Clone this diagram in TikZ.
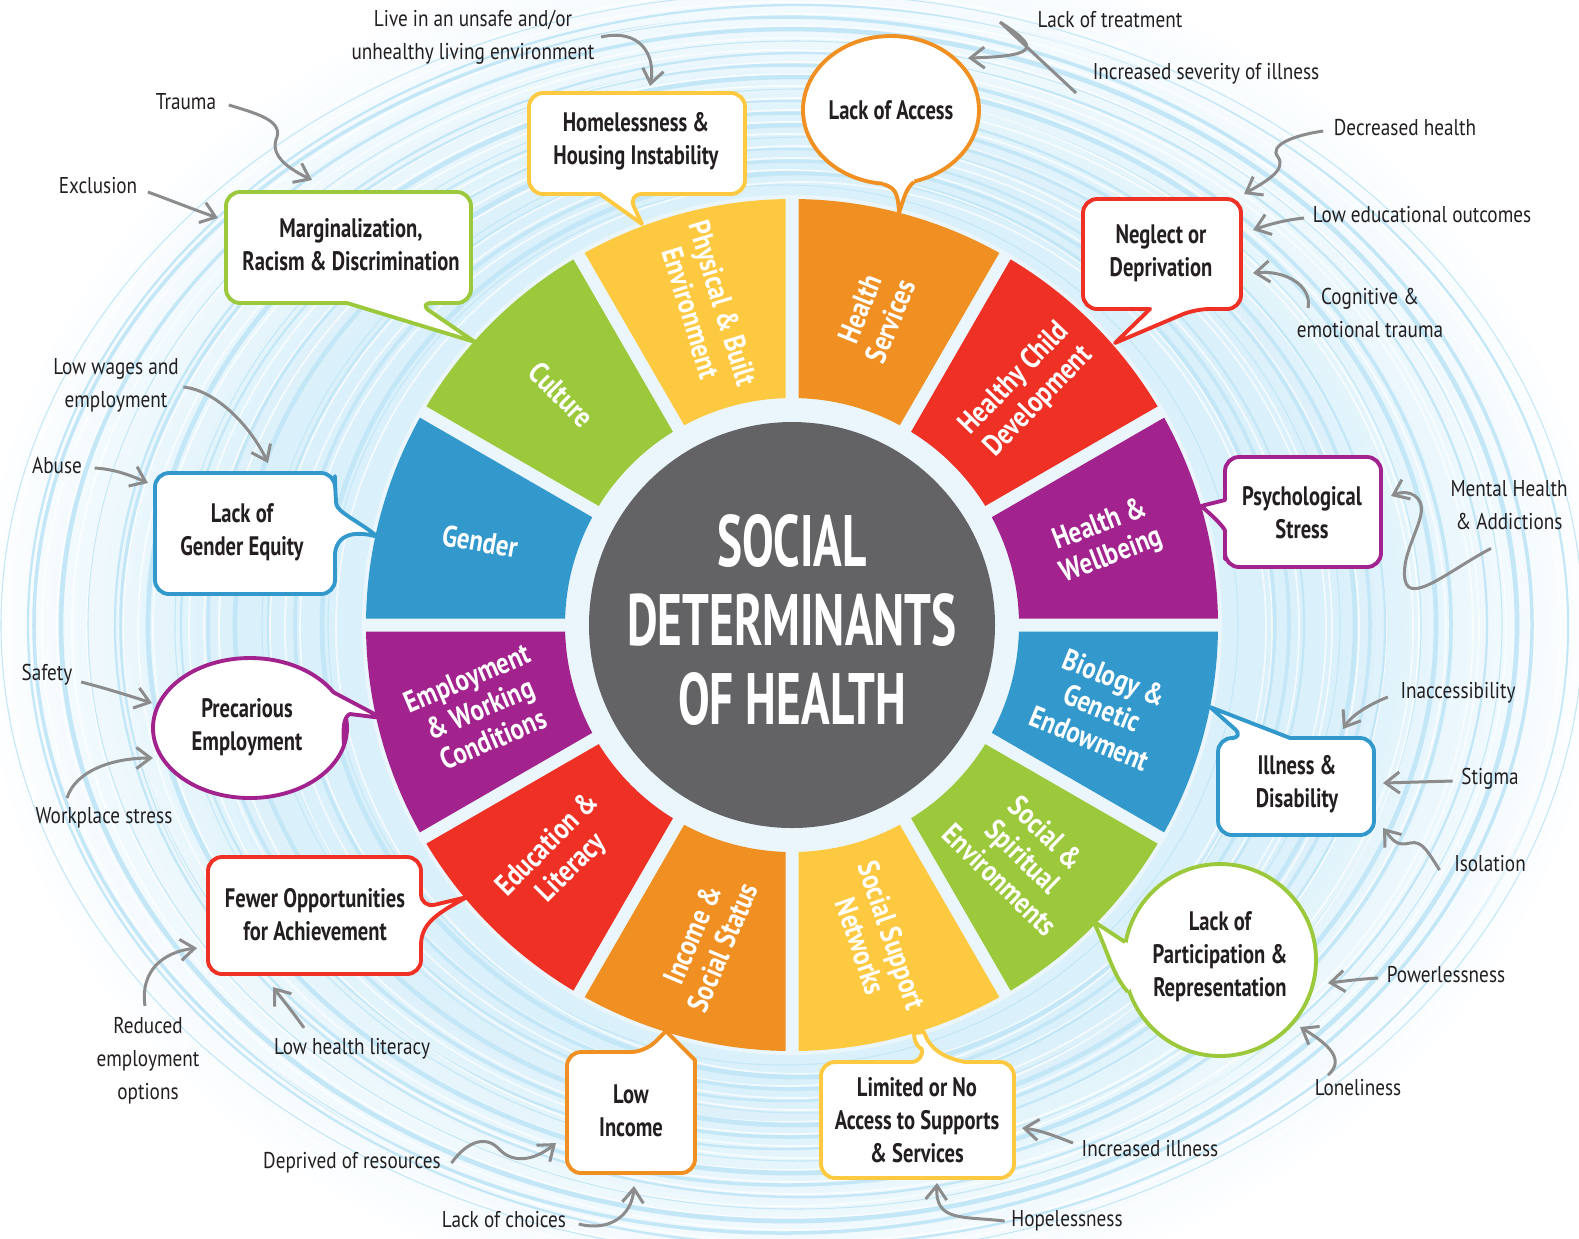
\documentclass[tikz,border=0pt]{standalone}
\usepackage{fontspec}
\setmainfont{PT Sans}[FakeStretch=0.84]
\newfontfamily\boxfont{PT Sans}[FakeStretch=0.77]
\newfontfamily\segfont{PT Sans}[FakeStretch=0.83]
\newfontfamily\titlefont{PT Sans}[FakeStretch=0.65]
\usetikzlibrary{calc, positioning, arrows.meta}

\definecolor{cyel}{RGB}{253,201,64}
\definecolor{corg}{RGB}{240,144,35}
\definecolor{cred}{RGB}{238,49,36}
\definecolor{cpur}{RGB}{162,35,141}
\definecolor{cblu}{RGB}{51,153,205}
\definecolor{cgrn}{RGB}{155,201,59}
\definecolor{cdark}{RGB}{99,98,101}
\definecolor{bgblue}{RGB}{218,240,250}
\definecolor{gapblue}{RGB}{234,246,252}
\definecolor{ringblue}{RGB}{196,231,247}
\definecolor{arrgrey}{RGB}{140,140,140}
\definecolor{txtgrey}{RGB}{35,31,32}

\tikzset{
  lbl/.style={font=\fontsize{6.5}{9.4}\selectfont, text=txtgrey, align=center, inner sep=0pt},
  boxtxt/.style={font=\boxfont\bfseries\fontsize{7.6}{9.4}\selectfont, text=txtgrey, align=center, inner sep=0pt},
  segtxt/.style={font=\segfont\bfseries\fontsize{8.5}{9.4}\selectfont, text=white, align=center, inner sep=0pt},
  arr/.style={draw=arrgrey, line width=0.85pt, -{Straight Barb[length=4pt,width=6pt]}},
  bubble/.style={fill=white, draw=#1, line width=1.1pt, line join=round},
  tailline/.style={draw=#1, line width=1.1pt, line join=round},
}

\begin{document}
\begin{tikzpicture}[x=0.01cm, y=-0.01cm]
\useasboundingbox (0,0) rectangle (1579,1238);
\fill[white] (0,0) rectangle (1579,1238);

% background glow and rings
\begin{scope}
  \clip (0,0) rectangle (1579,1238);
  \foreach \i in {0,...,20}{
    \pgfmathsetmacro{\s}{1-\i*0.016}
    \pgfmathsetmacro{\p}{\i*5}
    \fill[bgblue!\p!white] (792,625) ellipse [x radius=820*\s, y radius=700*\s];
  }
  \foreach \i in {0,...,16}{
    \pgfmathsetmacro{\rx}{455+21*\i}
    \pgfmathsetmacro{\ry}{440+12*\i}
    \pgfmathsetmacro{\lw}{0.3+0.35*mod(\i*7,4)}
    \pgfmathsetmacro{\dx}{mod(\i*5,7)*3-9}
    \draw[ringblue, line width=\lw pt] (792+\dx,625) ellipse [x radius=\rx, y radius=\ry];
    \draw[white, opacity=0.7, line width=0.5pt] (792-\dx,628) ellipse [x radius=\rx+10, y radius=\ry+6];
  }
\end{scope}

% the wheel
\begin{scope}[shift={(792,625)}, x=0.01cm, y=0.01cm]
  \fill[gapblue] (0,0) circle[radius=430];
  \foreach \k/\col in {0/cpur,1/cred,2/corg,3/cyel,4/cgrn,5/cblu,6/cpur,7/cred,8/corg,9/cyel,10/cgrn,11/cblu}{
    \pgfmathsetmacro{\aa}{30*\k}
    \pgfmathsetmacro{\ab}{30*\k+30}
    \fill[\col] ({\aa+0.874}:426) arc[start angle=\aa+0.874, end angle=\ab-0.874, radius=426]
      -- ({\ab-1.641}:227) arc[start angle=\ab-1.641, end angle=\aa+1.641, radius=227] -- cycle;
  }
  \fill[cdark] (0,0) circle[radius=203];
  \foreach \k/\r/\rot/\txt in {
      0/325/21/{Health \&\\Wellbeing},
      1/332/46/{Healthy Child\\Development},
      2/321/68/{Health\\Services},
      3/328/-73/{Physical \& Built\\Environment},
      4/326/-45/{Culture},
      5/323/-10/{Gender},
      6/323/23/{Employment\\\& Working\\Conditions},
      7/328/45/{Education \&\\Literacy},
      8/327/67/{Income \&\\Social Status},
      9/327/-71/{Social Support\\Networks},
      10/327/-44/{Social \&\\Spiritual\\Environments},
      11/321/-22/{Biology \&\\Genetic\\Endowment}}{
    \node[segtxt, rotate=\rot] (seg\k) at ({30*\k+15}:\r) {\txt};
  }
\end{scope}

\node[font=\titlefont\bfseries\fontsize{20.7}{22.5}\selectfont, text=white, align=center, inner sep=0pt] (title) at (792,620) {SOCIAL\\DETERMINANTS\\OF HEALTH};

% callouts
\filldraw[bubble=cyel] (529,150) [rounded corners=4pt] -- (529,93) -- (745,93) -- (745,194) -- (628,194) [sharp corners] -- (642,224) -- (600,194) [rounded corners=4pt] -- (529,194) -- cycle;
\node[boxtxt] (cHome) at (636,141) {Homelessness \&\\Housing Instability};

\filldraw[bubble=corg] (891,110) ellipse [x radius=88, y radius=74];
\fill[white] (883,176) -- (883,184) .. controls (895,188) and (898,192) .. (899,213) .. controls (904,198) and (906,188) .. (914,182) -- (914,176) -- cycle;
\draw[tailline=corg] (883,184) .. controls (895,188) and (898,192) .. (899,213) .. controls (904,198) and (906,188) .. (914,182);
\node[boxtxt] (cAccess) at (891,110) {Lack of Access};

\filldraw[bubble=cred] (1083,250) [rounded corners=4pt] -- (1083,199) -- (1241,199) -- (1241,309) -- (1195,309) [sharp corners] -- (1115,343) -- (1150,309) [rounded corners=4pt] -- (1083,309) -- cycle;
\node[boxtxt] (cNeglect) at (1161,253) {Neglect or\\Deprivation};

\filldraw[bubble=cpur] (1300,457) [rounded corners=4pt] -- (1381,457) -- (1381,567) -- (1225,567) -- (1225,545) [sharp corners] .. controls (1225,528) and (1212,515) .. (1201,506) -- (1225,500) [rounded corners=4pt] -- (1225,457) -- cycle;
\node[boxtxt] (cPsych) at (1302,513) {Psychological\\Stress};

\filldraw[bubble=cblu] (1374,790) [rounded corners=4pt] -- (1374,835) -- (1218,835) -- (1218,738) -- (1245,738) [sharp corners] -- (1210,707) -- (1290,738) [rounded corners=4pt] -- (1374,738) -- cycle;
\node[boxtxt] (cIllness) at (1297,784) {Illness \&\\Disability};

\filldraw[bubble=cgrn] (1220,960) circle[radius=96];
\fill[white] (1125,942) -- (1093,921) .. controls (1106,945) and (1112,975) .. (1128,992) -- (1140,975) -- (1140,950) -- cycle;
\draw[tailline=cgrn] (1125,942) -- (1093,921) .. controls (1106,945) and (1112,975) .. (1128,992);
\node[boxtxt] (cPartic) at (1220,957) {Lack of\\Participation \&\\Representation};

\filldraw[bubble=cyel] (821,1120) [rounded corners=4pt] -- (821,1062) -- (925,1062) [sharp corners] .. controls (922,1050) and (914,1045) .. (914,1033) -- (924,1032) .. controls (930,1050) and (945,1058) .. (965,1062) [rounded corners=4pt] -- (1014,1062) -- (1014,1178) -- (821,1178) -- cycle;
\node[boxtxt] (cLimited) at (917,1120) {Limited or No\\Access to Supports\\\& Services};

\filldraw[bubble=corg] (567,1110) [rounded corners=4pt] -- (567,1052) -- (645,1052) [sharp corners] -- (666,1031) -- (695,1060) [rounded corners=4pt] -- (695,1173) -- (567,1173) -- cycle;
\node[boxtxt] (cIncome) at (631,1111) {Low\\Income};

\filldraw[bubble=cred] (315,857) [rounded corners=4pt] -- (421,857) -- (421,908) [sharp corners] -- (467,897) .. controls (440,912) and (421,922) .. (421,945) [rounded corners=4pt] -- (421,974) -- (208,974) -- (208,857) -- cycle;
\node[boxtxt] (cFewer) at (315,915) {Fewer Opportunities\\for Achievement};

\filldraw[bubble=cpur] (250,728) ellipse [x radius=97, y radius=70];
\fill[white] (333,692) -- (382,718) -- (350,714) .. controls (343,717) and (343,730) .. (344,745) -- (320,730) -- cycle;
\draw[tailline=cpur] (333,692) -- (382,718) -- (350,714) .. controls (343,717) and (343,730) .. (344,745);
\node[boxtxt] (cPrec) at (247,727) {Precarious\\Employment};

\filldraw[bubble=cblu] (245,473) [rounded corners=4pt] -- (335,473) -- (335,490) [sharp corners] .. controls (337,512) and (360,522) .. (378,537) .. controls (362,532) and (338,530) .. (335,553) [rounded corners=4pt] -- (335,594) -- (155,594) -- (155,473) -- cycle;
\node[boxtxt] (cGender) at (242,532) {Lack of\\Gender Equity};

\filldraw[bubble=cgrn] (226,250) [rounded corners=4pt] -- (226,192) -- (471,192) -- (471,303) -- (418,303) [sharp corners] -- (475,342) -- (347,303) [rounded corners=4pt] -- (226,303) -- cycle;
\node[boxtxt] (cMarg) at (351,245) {Marginalization,\\Racism \& Discrimination};

% outside labels
\node[lbl] (lLive) at (473,37) {Live in an unsafe and/or\\unhealthy living environment};
\node[lbl] (lTreat) at (1110,20) {Lack of treatment};
\node[lbl] (lSever) at (1206,74) {Increased severity of illness};
\node[lbl] (lDecr) at (1405,128) {Decreased health};
\node[lbl] (lLowEd) at (1422,215) {Low educational outcomes};
\node[lbl] (lCogn) at (1370,313) {Cognitive \&\\emotional trauma};
\node[lbl] (lMental) at (1509,505) {Mental Health\\\& Addictions};
\node[lbl] (lInacc) at (1458,693) {Inaccessibility};
\node[lbl] (lStigma) at (1490,779) {Stigma};
\node[lbl] (lIsol) at (1490,864) {Isolation};
\node[lbl] (lPower) at (1446,975) {Powerlessness};
\node[lbl] (lLonely) at (1358,1088) {Loneliness};
\node[lbl] (lIncIll) at (1150,1149) {Increased illness};
\node[lbl] (lHope) at (1067,1221) {Hopelessness};
\node[lbl] (lChoice) at (504,1220) {Lack of choices};
\node[lbl] (lDepr) at (352,1163) {Deprived of resources};
\node[lbl] (lLit) at (352,1049) {Low health literacy};
\node[lbl] (lReduced) at (148,1061) {Reduced\\employment\\options};
\node[lbl] (lWork) at (104,818) {Workplace stress};
\node[lbl] (lSafety) at (47,675) {Safety};
\node[lbl] (lAbuse) at (57,465) {Abuse};
\node[lbl] (lWages) at (116,385) {Low wages and\\employment};
\node[lbl] (lExcl) at (98,186) {Exclusion};
\node[lbl] (lTrauma) at (186,102) {Trauma};

% arrow tips
\coordinate (tTrauma) at (312,180);
\coordinate (tExcl) at (218,218);
\coordinate (tWages) at (268,463);
\coordinate (tAbuse) at (148,483);
\coordinate (tSafety) at (152,703);
\coordinate (tWork) at (153,758);
\coordinate (tReduced) at (197,948);
\coordinate (tLit) at (273,987);
\coordinate (tDepr) at (556,1143);
\coordinate (tChoice) at (634,1186);
\coordinate (tHope) at (937,1183);
\coordinate (tIncIll) at (1022,1128);
\coordinate (tLonely) at (1300,1027);
\coordinate (tPower) at (1328,983);
\coordinate (tIsol) at (1383,828);
\coordinate (tStigma) at (1383,783);
\coordinate (tInacc) at (1343,729);
\coordinate (tMental) at (1391,496);
\coordinate (tCogn) at (1253,273);
\coordinate (tLowEd) at (1253,230);
\coordinate (tDecr) at (1244,194);
\coordinate (tAccess) at (968,58);
\coordinate (tLive) at (650,86);

\draw[arr] ($(lTrauma.east)+(12,3)$) .. controls (255,113) and (282,120) .. (277,137) .. controls (270,153) and (283,166) .. (tTrauma);
\draw[arr] ($(lExcl.east)+(10,6)$) .. controls (170,200) and (195,210) .. (tExcl);
\draw[arr] ($(lWages.east)+(4,2)$) .. controls (215,390) and (250,425) .. (tWages);
\draw[arr] ($(lAbuse.east)+(12,3)$) .. controls (115,469) and (132,476) .. (tAbuse);
\draw[arr] ($(lSafety.east)+(8,7)$) .. controls (105,688) and (130,696) .. (tSafety);
\draw[arr] ($(lWork.north)+(-37,-9)$) .. controls (75,772) and (110,758) .. (tWork);
\draw[arr] ($(lReduced.north)+(-3,-11)$) .. controls (140,972) and (162,952) .. (tReduced);
\draw[arr] ($(lLit.north)+(-48,-10)$) .. controls (295,1015) and (283,1000) .. (tLit);
\draw[arr] ($(lDepr.east)+(10,0)$) .. controls (468,1140) and (487,1135) .. (500,1150) .. controls (514,1164) and (535,1160) .. (tDepr);
\draw[arr] ($(lChoice.east)+(12,4)$) .. controls (610,1232) and (632,1215) .. (tChoice);
\draw[arr] ($(lHope.west)+(-6,0)$) .. controls (962,1216) and (935,1222) .. (tHope);
\draw[arr] ($(lIncIll.west)+(-8,-6)$) .. controls (1055,1136) and (1040,1130) .. (tIncIll);
\draw[arr] ($(lLonely.north)+(-30,-4)$) .. controls (1345,1060) and (1330,1045) .. (tLonely);
\draw[arr] ($(lPower.west)+(-8,3)$) .. controls (1360,979) and (1345,981) .. (tPower);
\draw[arr] ($(lIsol.west)+(-14,6)$) .. controls (1428,852) and (1422,840) .. (1410,843) .. controls (1398,846) and (1394,842) .. (tIsol);
\draw[arr] ($(lStigma.west)+(-8,2)$) -- (tStigma);
\draw[arr] ($(lInacc.west)+(-12,4)$) .. controls (1368,705) and (1352,715) .. (tInacc);
\draw[arr] ($(lMental.south)+(-18,18)$) .. controls (1450,570) and (1410,605) .. (1405,580) .. controls (1400,552) and (1428,518) .. (1420,502) .. controls (1414,490) and (1400,492) .. (tMental);
\draw[arr] ($(lCogn.west)+(12,-5)$) .. controls (1312,285) and (1285,270) .. (tCogn);
\draw[arr] ($(lLowEd.west)+(-8,3)$) .. controls (1285,220) and (1270,224) .. (tLowEd);
\draw[arr] ($(lDecr.west)+(-10,3)$) .. controls (1295,135) and (1268,145) .. (1278,157) .. controls (1287,170) and (1265,182) .. (tDecr);
\draw[arr] ($(lSever.west)+(-16,19)$) -- (1000,22) .. controls (1035,45) and (1045,56) .. (tAccess);
\draw[arr] ($(lLive.east)+(6,0)$) .. controls (640,28) and (656,55) .. (tLive);
\end{tikzpicture}
\end{document}
